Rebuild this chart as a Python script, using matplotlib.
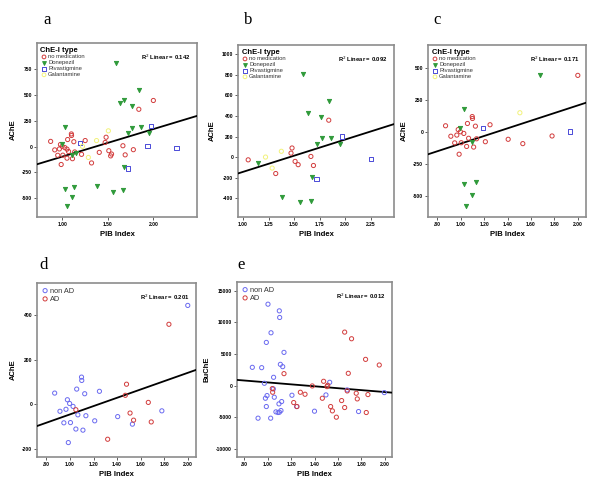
import numpy as np
import matplotlib
matplotlib.use("Agg")
import matplotlib.pyplot as plt

plt.rcParams['font.family'] = ['Liberation Sans', 'DejaVu Sans']

# ---- data ----
# no medication, non AD (panel c red, panel d blue)
nonad_nomed_pib = [0.87, 0.915, 0.948, 0.966, 0.986, 0.978, 0.997, 1.004, 1.026, 1.05, 1.057, 1.067,
                   1.098, 1.10, 1.11, 1.125, 1.135, 1.21, 1.25, 1.405, 1.53, 1.78, 2.00]
nonad_nomed_ache = [50, -32, -84, -23, -173, 20, 3, -83, -10, -112, 68, -48,
                    122, 107, -117, 47, -52, -75, 58, -56, -90, -30, 445]
# no medication, AD (panel b red, panel d red)
ad_nomed_pib = [1.05, 1.32, 1.47, 1.48, 1.51, 1.54, 1.665, 1.69, 1.84]
ad_nomed_ache = [-25, -158, 40, 90, -40, -72, 8, -80, 360]

# Donepezil
nonad_done_pib = [1.028, 0.99, 1.10, 1.028, 1.10, 1.048, 1.13, 1.68]
nonad_done_ache = [185, 29, -80, -408, -490, -576, -388, 450]
ad_done_pib = [1.15, 1.385, 1.555, 1.665, 1.59, 1.635, 1.765, 1.845, 1.72, 1.77, 1.86, 1.955, 1.68]
ad_done_ache = [-60, -385, -436, -424, 810, 425, 390, 542, 128, 183, 190, 128, -193]

# Rivastigmine
nonad_riva_pib = [1.19, 1.935]
nonad_riva_ache = [32, 5]
ad_riva_pib = [1.72, 1.97, 2.255]
ad_riva_ache = [-211, 202, -15]

# Galantamine
nonad_gala_pib = [1.505]
nonad_gala_ache = [152]
ad_gala_pib = [1.22, 1.285, 1.375]
ad_gala_ache = [2, -105, 58]

# BuChE (panel e)
nonad_bu_pib = [0.868, 0.948, 0.971, 0.98, 0.994, 0.988, 0.917, 1.025, 1.002, 0.988, 1.028, 1.05,
                1.048, 1.056, 1.099, 1.102, 1.139, 1.108, 1.128, 1.119, 1.096, 1.07, 1.088, 1.10,
                1.113, 1.207, 1.247, 1.40, 1.498, 1.53, 1.68, 1.777, 1.997]
nonad_bu = [2893, 2840, 368, -2000, -1578, -3314, -5155, -5155, 12887, 6838, 8363, 1315,
            -526, -1841, 11835, 10783, 5260, 3366, 2998, -2525, -2893, -4155, -4260, -4208,
            -3945, -1525, -3314, -4050, -1473, 526, -684, -4103, -1105]
ad_bu_pib = [1.139, 1.042, 1.039, 1.222, 1.25, 1.279, 1.319, 1.381, 1.478, 1.507, 1.513, 1.467,
             1.538, 1.553, 1.587, 1.632, 1.658, 1.658, 1.717, 1.689, 1.68, 1.757, 1.766, 1.837,
             1.857, 1.843, 1.954]
ad_bu = [1894, -1052, -473, -2683, -3314, -1052, -1368, -53, 684, -158, 53, -2000,
         -3314, -3998, -4997, -2367, -3472, 8469, 7417, 1946, -842, -1210, -2104, 4155,
         -1420, -4260, 3261]

type_labels = ['no medication', 'Donepezil', 'Rivastigmine', 'Galantamine']
group_labels = ['non AD', 'AD']
r2_values = {'a': 0.142, 'b': 0.092, 'c': 0.171, 'd': 0.201, 'e': 0.012}

RED = '#d23c3c'
GREEN = '#2f9a3a'
BLUE = '#4a4ad8'
YELLOW = '#f2f27a'
NONAD = '#6a6af0'

type_styles = [
    dict(marker='o', facecolors='none', edgecolors=RED),
    dict(marker='v', facecolors=GREEN, edgecolors=GREEN),
    dict(marker='s', facecolors='none', edgecolors=BLUE),
    dict(marker='o', facecolors='none', edgecolors=YELLOW),
]

W, H = 601, 491
fig = plt.figure(figsize=(W / 100, H / 100), dpi=100)


def make_axes(l, t, r, b):
    return fig.add_axes([l / W, 1 - b / H, (r - l) / W, (b - t) / H])


def style_axes(ax, xlim, ylim, xticks, xlabels, yticks, ylabel):
    ax.set_xlim(xlim)
    ax.set_ylim(ylim)
    ax.set_xticks(xticks)
    ax.set_xticklabels(xlabels)
    ax.set_yticks(yticks)
    ax.set_yticklabels([str(v) for v in yticks])
    for lab in ax.get_xticklabels() + ax.get_yticklabels():
        lab.set_fontweight('bold')
    ax.tick_params(labelsize=3.6, length=2, width=0.6, pad=1.5, color='#444444')
    for sp in ax.spines.values():
        sp.set_color('#8c8c8c')
        sp.set_linewidth(1.2)
    ax.set_xlabel('PIB Index', fontsize=5.5, fontweight='bold', labelpad=3)
    ax.set_ylabel(ylabel, fontsize=5.5, fontweight='bold', labelpad=4)


def fit_line(ax, xs, ys, xlim, r2):
    k, b0 = np.polyfit(xs, ys, 1)
    xx = np.array(xlim)
    ax.plot(xx, k * xx + b0, color='black', lw=1.3, zorder=3)
    ax.text(0.96, 0.945, 'R$^2$ Linear = %.3f' % r2, transform=ax.transAxes,
            ha='right', va='top', fontsize=4.2, fontweight='bold')


def type_panel(ax, groups, xlim, r2):
    allx, ally = [], []
    for (xs, ys), lab, st in zip(groups, type_labels, type_styles):
        ax.scatter(xs, ys, s=9, linewidths=0.7, label=lab, zorder=4, **st)
        allx += xs
        ally += ys
    fit_line(ax, allx, ally, xlim, r2)
    leg = ax.legend(title='ChE-I type', loc='upper left', frameon=False, fontsize=4.2,
                    handletextpad=0.1, labelspacing=0.15, borderaxespad=0.3,
                    markerscale=0.9, handlelength=1.2, borderpad=0.3)
    leg.get_title().set_fontsize(5.5)
    leg.get_title().set_fontweight('bold')
    leg._legend_box.align = 'left'
    for t in leg.get_texts():
        t.set_color('#333333')


def group_panel(ax, groups, xlim, r2):
    allx, ally = [], []
    for (xs, ys), lab, col in zip(groups, group_labels, [NONAD, RED]):
        ax.scatter(xs, ys, s=9, marker='o', facecolors='none', edgecolors=col,
                   linewidths=0.7, label=lab, zorder=4)
        allx += xs
        ally += ys
    fit_line(ax, allx, ally, xlim, r2)
    leg = ax.legend(loc='upper left', frameon=False, fontsize=5.3, handletextpad=0.1,
                    labelspacing=0.15, borderaxespad=0.3, handlelength=1.0, borderpad=0.3)
    for t in leg.get_texts():
        t.set_color('#333333')


# panel a: all patients
ax = make_axes(37, 43, 197, 217)
xlim_a = (0.72, 2.48)
type_panel(ax, [(nonad_nomed_pib + ad_nomed_pib, nonad_nomed_ache + ad_nomed_ache),
                (nonad_done_pib + ad_done_pib, nonad_done_ache + ad_done_ache),
                (nonad_riva_pib + ad_riva_pib, nonad_riva_ache + ad_riva_ache),
                (nonad_gala_pib + ad_gala_pib, nonad_gala_ache + ad_gala_ache)],
           xlim_a, r2_values['a'])
style_axes(ax, xlim_a, (-680, 1000), [1.0, 1.5, 2.0], ['1.00', '1.50', '2.00'],
           [-500, -250, 0, 250, 500, 750], 'AChE')

# panel b: AD patients
ax = make_axes(238, 45, 394, 217)
xlim_b = (0.95, 2.48)
type_panel(ax, [(ad_nomed_pib, ad_nomed_ache), (ad_done_pib, ad_done_ache),
                (ad_riva_pib, ad_riva_ache), (ad_gala_pib, ad_gala_ache)],
           xlim_b, r2_values['b'])
style_axes(ax, xlim_b, (-580, 1090), [1.0, 1.25, 1.5, 1.75, 2.0, 2.25],
           ['1.00', '1.25', '1.50', '1.75', '2.00', '2.25'],
           [-400, -200, 0, 200, 400, 600, 800, 1000], 'AChE')

# panel c: non AD patients
ax = make_axes(428, 45, 586, 217)
xlim_c = (0.72, 2.07)
type_panel(ax, [(nonad_nomed_pib, nonad_nomed_ache), (nonad_done_pib, nonad_done_ache),
                (nonad_riva_pib, nonad_riva_ache), (nonad_gala_pib, nonad_gala_ache)],
           xlim_c, r2_values['c'])
xt = [0.8, 1.0, 1.2, 1.4, 1.6, 1.8, 2.0]
xtl = ['.80', '1.00', '1.20', '1.40', '1.60', '1.80', '2.00']
style_axes(ax, xlim_c, (-665, 683), xt, xtl, [-500, -250, 0, 250, 500], 'AChE')

# panel d: no medication, AChE
ax = make_axes(37, 283, 196, 457)
xlim_d = (0.72, 2.07)
group_panel(ax, [(nonad_nomed_pib, nonad_nomed_ache), (ad_nomed_pib, ad_nomed_ache)],
            xlim_d, r2_values['d'])
style_axes(ax, xlim_d, (-238, 546), xt, xtl, [-200, 0, 200, 400], 'AChE')

# panel e: BuChE
ax = make_axes(237, 282, 392, 457)
xlim_e = (0.737, 2.063)
group_panel(ax, [(nonad_bu_pib, nonad_bu), (ad_bu_pib, ad_bu)], xlim_e, r2_values['e'])
style_axes(ax, xlim_e, (-11300, 16400), xt, xtl,
           [-10000, -5000, 0, 5000, 10000, 15000], 'BuChE')

# panel letters
for letter, (px, py) in zip('abcde', [(47, 20), (248, 20), (437, 20), (44, 265), (241, 265)]):
    fig.text(px / W, 1 - py / H, letter, fontsize=12, family='Liberation Serif',
             ha='center', va='center')

fig.savefig('out.png', dpi=100)
